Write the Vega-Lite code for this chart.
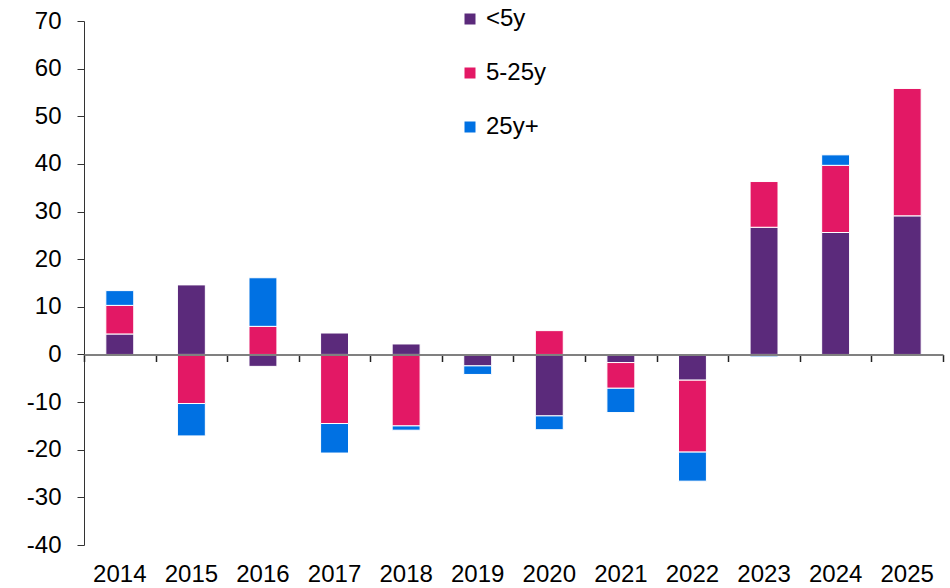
{
  "$schema": "https://vega.github.io/schema/vega-lite/v6.json",
  "width": 859,
  "height": 524,
  "autosize": "none",
  "padding": {"left": 84, "top": 21, "right": 7, "bottom": 43},
  "background": "white",
  "config": {
    "view": {"stroke": null},
    "font": "Liberation Sans",
    "locale": {"number": {"decimal": ".", "thousands": ",", "grouping": [3], "currency": ["$", ""], "minus": "-"}},
    "axis": {"labelFont": "Liberation Sans", "labelFontSize": 24, "labelColor": "black", "grid": false}
  },
  "data": {
    "values": [
      {"year": "2014", "bucket": "<5y", "k": 1, "value": 4.3},
      {"year": "2014", "bucket": "5-25y", "k": 2, "value": 6.0},
      {"year": "2014", "bucket": "25y+", "k": 3, "value": 3.1},
      {"year": "2015", "bucket": "<5y", "k": 1, "value": 14.6},
      {"year": "2015", "bucket": "5-25y", "k": 2, "value": -10.3},
      {"year": "2015", "bucket": "25y+", "k": 3, "value": -6.8},
      {"year": "2016", "bucket": "<5y", "k": 1, "value": -2.5},
      {"year": "2016", "bucket": "5-25y", "k": 2, "value": 5.9},
      {"year": "2016", "bucket": "25y+", "k": 3, "value": 10.2},
      {"year": "2017", "bucket": "<5y", "k": 1, "value": 4.5},
      {"year": "2017", "bucket": "5-25y", "k": 2, "value": -14.5},
      {"year": "2017", "bucket": "25y+", "k": 3, "value": -6.2},
      {"year": "2018", "bucket": "<5y", "k": 1, "value": 2.2},
      {"year": "2018", "bucket": "5-25y", "k": 2, "value": -15.0},
      {"year": "2018", "bucket": "25y+", "k": 3, "value": -0.9},
      {"year": "2019", "bucket": "<5y", "k": 1, "value": -2.4},
      {"year": "2019", "bucket": "5-25y", "k": 2, "value": 0},
      {"year": "2019", "bucket": "25y+", "k": 3, "value": -1.8},
      {"year": "2020", "bucket": "<5y", "k": 1, "value": -12.9},
      {"year": "2020", "bucket": "5-25y", "k": 2, "value": 5.0},
      {"year": "2020", "bucket": "25y+", "k": 3, "value": -2.9},
      {"year": "2021", "bucket": "<5y", "k": 1, "value": -1.7},
      {"year": "2021", "bucket": "5-25y", "k": 2, "value": -5.4},
      {"year": "2021", "bucket": "25y+", "k": 3, "value": -5.1},
      {"year": "2022", "bucket": "<5y", "k": 1, "value": -5.4},
      {"year": "2022", "bucket": "5-25y", "k": 2, "value": -15.1},
      {"year": "2022", "bucket": "25y+", "k": 3, "value": -6.1},
      {"year": "2023", "bucket": "<5y", "k": 1, "value": 26.7},
      {"year": "2023", "bucket": "5-25y", "k": 2, "value": 9.6},
      {"year": "2023", "bucket": "25y+", "k": 3, "value": -0.5},
      {"year": "2024", "bucket": "<5y", "k": 1, "value": 25.6},
      {"year": "2024", "bucket": "5-25y", "k": 2, "value": 14.1},
      {"year": "2024", "bucket": "25y+", "k": 3, "value": 2.2},
      {"year": "2025", "bucket": "<5y", "k": 1, "value": 29.1},
      {"year": "2025", "bucket": "5-25y", "k": 2, "value": 26.8},
      {"year": "2025", "bucket": "25y+", "k": 3, "value": 0}
    ]
  },
  "resolve": {"axis": {"x": "independent"}},
  "layer": [
    {
      "mark": {"type": "bar", "stroke": "white", "strokeWidth": 1, "width": {"band": 0.39}},
      "encoding": {
        "x": {
          "field": "year", "type": "nominal", "title": null,
          "scale": {"paddingInner": 0, "paddingOuter": 0},
          "axis": {"orient": "bottom", "labelAngle": 0, "ticks": false, "domain": false, "labelPadding": 17}
        },
        "y": {
          "field": "value", "type": "quantitative", "title": null, "stack": "zero",
          "scale": {"domain": [-40, 70], "nice": false, "zero": false},
          "axis": {"values": [-40, -30, -20, -10, 0, 10, 20, 30, 40, 50, 60, 70], "tickSize": 7, "tickColor": "#333", "domainColor": "#333", "domainWidth": 1, "labelPadding": 16}
        },
        "color": {
          "field": "bucket", "type": "nominal",
          "scale": {"domain": ["<5y", "5-25y", "25y+"], "range": ["#5B2A7B", "#E31865", "#0071E3"]},
          "legend": {
            "title": null, "orient": "none", "legendX": 374, "legendY": -14,
            "symbolType": "square", "symbolSize": 121, "symbolStrokeWidth": 0,
            "labelFontSize": 24, "labelFont": "Liberation Sans", "labelColor": "black",
            "rowPadding": 30, "labelOffset": 4
          }
        },
        "order": {"field": "k", "type": "quantitative"}
      }
    },
    {
      "mark": {"type": "rule", "opacity": 0},
      "encoding": {
        "x": {
          "field": "year", "type": "nominal", "title": null,
          "axis": {"orient": "bottom", "labels": false, "ticks": true, "offset": -190.5, "tickBand": "extent", "tickSize": 7, "tickWidth": 1.5, "tickColor": "#222", "domainColor": "#808080", "domainWidth": 2, "zindex": 1}
        },
        "y": {"datum": 0}
      }
    }
  ]
}
